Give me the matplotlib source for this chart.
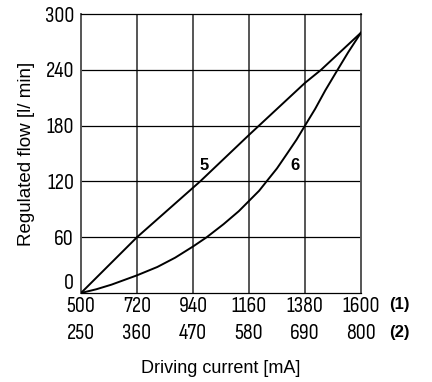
import matplotlib.pyplot as plt

# current scale (1) and (2), flow in l/min
current_1 = [500, 720, 940, 1160, 1380, 1600]
current_2 = [250, 360, 470, 580, 690, 800]
flow_ticks = [0, 60, 120, 180, 240, 300]

# curve 5 (almost straight)
c5_x = [500, 720, 968, 1160, 1380, 1443, 1600]
c5_y = [0, 60, 120, 170, 226, 240, 280]

# curve 6 (progressive)
c6_x = [500, 560, 620, 720, 800, 870, 940, 994, 1060, 1120, 1160, 1200, 1229,
        1270, 1310, 1347, 1380, 1420, 1460, 1508, 1550, 1600]
c6_y = [0, 4, 9, 19, 28, 38, 50, 60, 74, 88, 99, 110, 120,
        134, 150, 165, 180, 198, 218, 240, 259, 280]

num_font = ['Sofia Sans Condensed', 'DejaVu Sans']

fig = plt.figure(figsize=(4.32, 3.82), dpi=100)
ax = fig.add_axes([0.1875, 0.233, 0.648, 0.730])

for x in current_1[1:-1]:
    ax.axvline(x, color='#555555', lw=1.4, zorder=1)
for y in flow_ticks[1:-1]:
    ax.axhline(y, color='black', lw=0.9, zorder=1)

ax.plot(c5_x, c5_y, color='black', lw=1.4, zorder=3)
ax.plot(c6_x, c6_y, color='black', lw=1.4, zorder=3)

ax.text(983, 137, '5', fontsize=12, fontweight='bold', family='Liberation Sans',
        ha='center', va='center')
ax.text(1341, 137, '6', fontsize=12, fontweight='bold', family='Liberation Sans',
        ha='center', va='center')

ax.set_xlim(500, 1600)
ax.set_ylim(0, 300)

ax.set_xticks(current_1)
ax.set_xticklabels([f'{a}\n{b}' for a, b in zip(current_1, current_2)],
                   linespacing=1.55)
ax.set_yticks(flow_ticks)
ax.set_yticklabels([str(v) for v in flow_ticks])
ax.tick_params(length=0, labelsize=16, pad=3)
ax.tick_params(axis='y', pad=5)
for lab in ax.get_xticklabels() + ax.get_yticklabels():
    lab.set_family(num_font)
    lab.set_style('normal')
ax.get_yticklabels()[0].set_va('bottom')

for s in ['left', 'right']:
    ax.spines[s].set_color('#555555')
    ax.spines[s].set_linewidth(1.4)
for s in ['top', 'bottom']:
    ax.spines[s].set_color('black')
    ax.spines[s].set_linewidth(0.9)

ax.text(1.10, -0.043, '(1)', transform=ax.transAxes, fontsize=12,
        family='Liberation Sans', fontweight='bold', ha='left', va='center')
ax.text(1.10, -0.143, '(2)', transform=ax.transAxes, fontsize=12,
        family='Liberation Sans', fontweight='bold', ha='left', va='center')

ax.set_xlabel('Driving current [mA]', fontsize=13, family='Liberation Sans',
              labelpad=12)
ax.set_ylabel('Regulated flow [l/ min]', fontsize=13.5, family='Liberation Sans',
              labelpad=7)

fig.savefig('out.png', dpi=100)
